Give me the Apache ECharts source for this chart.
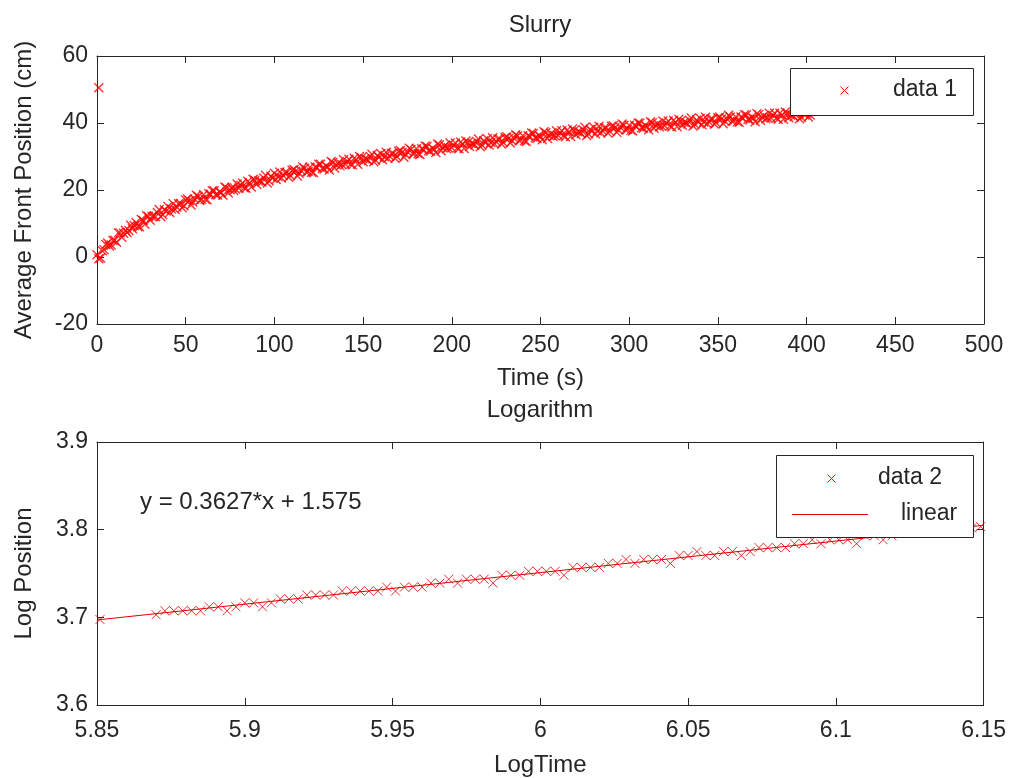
<!DOCTYPE html>
<html>
<head>
<meta charset="utf-8">
<title>Slurry</title>
<script src="https://cdn.jsdelivr.net/npm/echarts@6/dist/echarts.min.js"></script>
<style>
html, body { margin: 0; padding: 0; background: #fff; }
#chart { width: 1009px; height: 778px; }
</style>
</head>
<body>
<div id="chart"></div>
<script>
// top panel: average front position vs time (even seconds)
var timeEven = [
  0, 2, 4, 6, 8, 10, 12, 14, 16, 18,
  20, 22, 24, 26, 28, 30, 32, 34, 36, 38,
  40, 42, 44, 46, 48, 50, 52, 54, 56, 58,
  60, 62, 64, 66, 68, 70, 72, 74, 76, 78,
  80, 82, 84, 86, 88, 90, 92, 94, 96, 98,
  100, 102, 104, 106, 108, 110, 112, 114, 116, 118,
  120, 122, 124, 126, 128, 130, 132, 134, 136, 138,
  140, 142, 144, 146, 148, 150, 152, 154, 156, 158,
  160, 162, 164, 166, 168, 170, 172, 174, 176, 178,
  180, 182, 184, 186, 188, 190, 192, 194, 196, 198,
  200, 202, 204, 206, 208, 210, 212, 214, 216, 218,
  220, 222, 224, 226, 228, 230, 232, 234, 236, 238,
  240, 242, 244, 246, 248, 250, 252, 254, 256, 258,
  260, 262, 264, 266, 268, 270, 272, 274, 276, 278,
  280, 282, 284, 286, 288, 290, 292, 294, 296, 298,
  300, 302, 304, 306, 308, 310, 312, 314, 316, 318,
  320, 322, 324, 326, 328, 330, 332, 334, 336, 338,
  340, 342, 344, 346, 348, 350, 352, 354, 356, 358,
  360, 362, 364, 366, 368, 370, 372, 374, 376, 378,
  380, 382, 384, 386, 388, 390, 392, 394, 396, 398,
  400, 402
];
var posEven = [
  0.7, -0.3, 2.2, 4.2, 3.6, 5.0, 7.2, 5.9, 7.9, 7.9,
  8.4, 10.3, 9.0, 10.9, 12.3, 11.0, 12.2, 13.3, 12.0, 14.1,
  15.1, 14.3, 14.2, 15.9, 14.7, 17.0, 16.8, 16.4, 18.4, 16.9,
  18.6, 17.1, 18.7, 19.8, 18.5, 19.2, 20.9, 19.1, 20.7, 20.3,
  20.5, 22.1, 20.5, 22.1, 23.2, 21.7, 22.7, 23.6, 22.1, 24.1,
  25.0, 24.0, 23.6, 25.2, 23.8, 25.9, 25.6, 25.0, 26.9, 25.3,
  26.8, 25.2, 26.7, 27.7, 26.3, 26.9, 28.5, 26.6, 28.1, 27.6,
  27.7, 29.2, 27.5, 29.0, 30.0, 28.4, 29.2, 30.0, 28.4, 30.3,
  30.9, 29.9, 29.5, 30.9, 29.5, 31.6, 31.2, 30.6, 32.5, 30.8,
  32.3, 30.6, 32.1, 33.0, 31.6, 32.1, 33.7, 31.7, 33.2, 32.6,
  32.6, 34.0, 32.3, 33.7, 34.6, 33.0, 33.8, 34.5, 32.9, 34.7,
  35.3, 34.2, 33.8, 35.2, 33.7, 35.7, 35.4, 34.7, 36.5, 34.8,
  36.2, 34.5, 36.0, 36.9, 35.4, 35.9, 37.4, 35.4, 36.9, 36.3,
  36.3, 37.7, 35.9, 37.3, 38.2, 36.5, 37.3, 38.0, 36.3, 38.1,
  38.7, 37.6, 37.1, 38.5, 37.0, 39.0, 38.6, 37.9, 39.7, 38.0,
  39.3, 37.6, 39.0, 39.9, 38.4, 38.9, 40.4, 38.4, 39.8, 39.2,
  39.2, 40.6, 38.8, 40.2, 41.1, 39.3, 40.1, 40.8, 39.1, 40.9,
  41.4, 40.3, 39.8, 41.2, 39.7, 41.6, 41.2, 40.5, 42.3, 40.5,
  41.9, 40.2, 41.5, 42.4, 40.9, 41.4, 42.8, 40.8, 42.2, 41.6,
  41.5, 42.9, 41.1, 42.4, 43.3, 41.6, 42.3, 43.0, 41.3, 43.0,
  42.9, 42.4
];
// same series, odd seconds
var timeOdd = [
  1, 3, 5, 7, 9, 11, 13, 15, 17, 19,
  21, 23, 25, 27, 29, 31, 33, 35, 37, 39,
  41, 43, 45, 47, 49, 51, 53, 55, 57, 59,
  61, 63, 65, 67, 69, 71, 73, 75, 77, 79,
  81, 83, 85, 87, 89, 91, 93, 95, 97, 99,
  101, 103, 105, 107, 109, 111, 113, 115, 117, 119,
  121, 123, 125, 127, 129, 131, 133, 135, 137, 139,
  141, 143, 145, 147, 149, 151, 153, 155, 157, 159,
  161, 163, 165, 167, 169, 171, 173, 175, 177, 179,
  181, 183, 185, 187, 189, 191, 193, 195, 197, 199,
  201, 203, 205, 207, 209, 211, 213, 215, 217, 219,
  221, 223, 225, 227, 229, 231, 233, 235, 237, 239,
  241, 243, 245, 247, 249, 251, 253, 255, 257, 259,
  261, 263, 265, 267, 269, 271, 273, 275, 277, 279,
  281, 283, 285, 287, 289, 291, 293, 295, 297, 299,
  301, 303, 305, 307, 309, 311, 313, 315, 317, 319,
  321, 323, 325, 327, 329, 331, 333, 335, 337, 339,
  341, 343, 345, 347, 349, 351, 353, 355, 357, 359,
  361, 363, 365, 367, 369, 371, 373, 375, 377, 379,
  381, 383, 385, 387, 389, 391, 393, 395, 397, 399,
  401
];
var posOdd = [
  -0.5, 1.9, 3.7, 3.3, 4.9, 4.4, 7.2, 7.1, 7.3, 9.5,
  9.4, 9.0, 11.2, 9.8, 12.1, 12.1, 12.0, 14.2, 12.6, 13.7,
  13.3, 15.9, 14.9, 16.0, 15.3, 17.3, 15.5, 17.3, 18.1, 17.2,
  17.2, 18.9, 19.8, 18.6, 19.5, 18.4, 20.7, 20.1, 19.9, 21.8,
  21.4, 20.7, 22.6, 20.9, 22.9, 22.7, 22.4, 24.4, 22.7, 23.6,
  23.1, 25.4, 24.3, 25.2, 24.3, 26.1, 24.2, 25.8, 26.5, 25.5,
  25.3, 26.9, 27.7, 26.4, 27.2, 26.0, 28.2, 27.5, 27.2, 29.0,
  28.5, 27.7, 29.5, 27.7, 29.6, 29.3, 28.8, 30.7, 28.9, 29.7,
  29.0, 31.3, 30.1, 30.9, 30.0, 31.8, 29.8, 31.4, 32.1, 31.0,
  30.8, 32.3, 33.1, 31.7, 32.5, 31.2, 33.4, 32.6, 32.3, 34.0,
  33.4, 32.5, 34.3, 32.4, 34.2, 33.9, 33.4, 35.2, 33.4, 34.1,
  33.4, 35.6, 34.4, 35.2, 34.2, 35.9, 34.0, 35.5, 36.1, 35.0,
  34.7, 36.2, 37.0, 35.6, 36.3, 35.0, 37.1, 36.3, 36.0, 37.7,
  37.1, 36.2, 37.9, 36.0, 37.8, 37.4, 36.9, 38.7, 36.8, 37.5,
  36.8, 39.0, 37.7, 38.5, 37.5, 39.2, 37.2, 38.7, 39.3, 38.1,
  37.8, 39.3, 40.0, 38.6, 39.3, 38.0, 40.1, 39.3, 38.9, 40.6,
  40.0, 39.1, 40.8, 38.9, 40.6, 40.2, 39.7, 41.5, 39.6, 40.2,
  39.5, 41.7, 40.4, 41.2, 40.1, 41.8, 39.8, 41.3, 41.8, 40.7,
  40.4, 41.8, 42.5, 41.1, 41.8, 40.4, 42.5, 41.7, 41.3, 42.9,
  42.3, 41.4, 43.0, 41.1, 42.9, 42.4, 41.9, 43.7, 41.7, 42.4,
  41.8
];
// the lone point near the top left
var outlierTime = [1];
var outlierPos = [50.5];

// bottom panel: log position vs log time
var logTime = [
  5.851,
  5.870, 5.873, 5.876, 5.879, 5.882, 5.885, 5.888, 5.891, 5.894, 5.897,
  5.900, 5.903, 5.906, 5.909, 5.912, 5.915, 5.918, 5.921, 5.924, 5.927,
  5.930, 5.933, 5.936, 5.939, 5.942, 5.945, 5.948, 5.951, 5.954, 5.957,
  5.960, 5.963, 5.966, 5.969, 5.972, 5.975, 5.978, 5.981, 5.984, 5.987,
  5.990, 5.993, 5.996, 5.999, 6.002, 6.005, 6.008, 6.011, 6.014, 6.017,
  6.020, 6.023, 6.026, 6.029, 6.032, 6.035, 6.038, 6.041, 6.044, 6.047,
  6.050, 6.053, 6.056, 6.059, 6.062, 6.065, 6.068, 6.071, 6.074, 6.077,
  6.080, 6.083, 6.086, 6.089, 6.092, 6.095, 6.098, 6.101, 6.104, 6.107,
  6.110, 6.113, 6.116, 6.119, 6.122, 6.125, 6.128, 6.131, 6.134, 6.137,
  6.140, 6.143, 6.146,
  6.149
];
var logPos = [
  3.6975,
  3.7030, 3.7075, 3.7075, 3.7075, 3.7075, 3.7075, 3.7120, 3.7120, 3.7075, 3.7120,
  3.7165, 3.7165, 3.7120, 3.7165, 3.7210, 3.7210, 3.7210, 3.7255, 3.7255, 3.7255,
  3.7255, 3.7300, 3.7300, 3.7300, 3.7300, 3.7300, 3.7345, 3.7300, 3.7345, 3.7345,
  3.7345, 3.7390, 3.7390, 3.7435, 3.7390, 3.7435, 3.7435, 3.7435, 3.7390, 3.7480,
  3.7480, 3.7480, 3.7525, 3.7525, 3.7525, 3.7525, 3.7480, 3.7570, 3.7570, 3.7570,
  3.7570, 3.7615, 3.7615, 3.7660, 3.7615, 3.7660, 3.7660, 3.7660, 3.7615, 3.7705,
  3.7705, 3.7750, 3.7705, 3.7705, 3.7750, 3.7750, 3.7705, 3.7750, 3.7795, 3.7795,
  3.7795, 3.7795, 3.7840, 3.7840, 3.7885, 3.7840, 3.7885, 3.7885, 3.7885, 3.7840,
  3.7930, 3.7930, 3.7885, 3.7930, 3.7975, 3.7975, 3.7975, 3.8020, 3.8020, 3.8020,
  3.8020, 3.8020, 3.8020,
  3.8035
];
// linear fit y = 0.3627*x + 1.575, end points
var fitX = [5.85, 6.15];
var fitY = [3.697, 3.805];

var fitLabel = 'y = 0.3627*x + 1.575';

var FONT = '"Liberation Sans", Arial, Helvetica, sans-serif';
var INK = '#262626';
var RED = '#ff0000';
var RED2 = '#e00000';
var CROSS = 'path://M0,0L10,10M10,0L0,10';

function zip(xs, ys) {
  var out = [];
  for (var i = 0; i < xs.length; i++) out.push([xs[i], ys[i]]);
  return out;
}

function frameAxis(grid, pos, min, max, interval, showLabel, extra) {
  var ax = {
    gridIndex: grid,
    type: 'value',
    position: pos,
    min: min,
    max: max,
    interval: interval,
    axisLine: { show: true, onZero: false, lineStyle: { color: INK, width: 1 } },
    axisTick: { show: true, inside: true, length: 7, lineStyle: { color: INK } },
    axisLabel: { show: showLabel, color: INK, fontSize: 23, fontFamily: FONT, margin: 9 },
    splitLine: { show: false }
  };
  if (extra) for (var k in extra) ax[k] = extra[k];
  return ax;
}

var axisName = { color: INK, fontSize: 24, fontFamily: FONT };

function cross(cx, cy, color) {
  return [
    { type: 'line', z: 102, shape: { x1: cx - 4, y1: cy - 4, x2: cx + 4, y2: cy + 4 }, style: { stroke: color, lineWidth: 1 } },
    { type: 'line', z: 102, shape: { x1: cx + 4, y1: cy - 4, x2: cx - 4, y2: cy + 4 }, style: { stroke: color, lineWidth: 1 } }
  ];
}

var topX = frameAxis(0, 'bottom', 0, 500, 50, true, {
  name: 'Time (s)', nameLocation: 'middle', nameGap: 42, nameTextStyle: axisName
});
topX.axisLabel.margin = 10;
var bottomX = frameAxis(1, 'bottom', 5.85, 6.15, 0.05, true, {
  name: 'LogTime', nameLocation: 'middle', nameGap: 48, nameTextStyle: axisName
});
bottomX.axisLabel.margin = 14;

var chart = echarts.init(document.getElementById('chart'));
chart.setOption({
  animation: false,
  backgroundColor: '#fff',
  textStyle: { fontFamily: FONT },
  grid: [
    { left: 97, top: 56, width: 887, height: 268 },
    { left: 97, top: 442, width: 887, height: 268 }
  ],
  xAxis: [
    topX,
    frameAxis(0, 'top', 0, 500, 50, false),
    bottomX,
    frameAxis(1, 'top', 5.85, 6.15, 0.05, false)
  ],
  yAxis: [
    frameAxis(0, 'left', -20, 60, 20, true, {
      name: 'Average Front Position (cm)', nameLocation: 'middle', nameGap: 61, nameTextStyle: axisName
    }),
    frameAxis(0, 'right', -20, 60, 20, false),
    frameAxis(1, 'left', 3.6, 3.9, 0.1, true, {
      name: 'Log Position', nameLocation: 'middle', nameGap: 61, nameTextStyle: axisName
    }),
    frameAxis(1, 'right', 3.6, 3.9, 0.1, false)
  ],
  series: [
    {
      name: 'data 1',
      type: 'scatter',
      xAxisIndex: 0,
      yAxisIndex: 0,
      symbol: CROSS,
      symbolSize: 9,
      silent: true,
      itemStyle: { color: 'rgba(0,0,0,0)', borderColor: RED, borderWidth: 1.4 },
      data: zip(outlierTime, outlierPos).concat(zip(timeEven, posEven), zip(timeOdd, posOdd))
    },
    {
      name: 'data 2',
      type: 'scatter',
      xAxisIndex: 2,
      yAxisIndex: 2,
      symbol: CROSS,
      symbolSize: 9,
      silent: true,
      itemStyle: { color: 'rgba(0,0,0,0)', borderColor: RED2, borderWidth: 1 },
      data: zip(logTime, logPos)
    },
    {
      name: 'linear',
      type: 'line',
      xAxisIndex: 2,
      yAxisIndex: 2,
      symbol: 'none',
      silent: true,
      lineStyle: { color: RED2, width: 1 },
      data: zip(fitX, fitY)
    }
  ],
  graphic: [
    { type: 'text', x: 540, y: 25, z: 100, style: { text: 'Slurry', fill: INK, font: '24px ' + FONT, align: 'center', verticalAlign: 'middle' } },
    { type: 'text', x: 540, y: 410, z: 100, style: { text: 'Logarithm', fill: INK, font: '24px ' + FONT, align: 'center', verticalAlign: 'middle' } },
    { type: 'text', x: 140, y: 502, z: 100, style: { text: fitLabel, fill: INK, font: '24px ' + FONT, align: 'left', verticalAlign: 'middle' } },
    // legend, top panel
    { type: 'rect', z: 100, shape: { x: 790.5, y: 68.5, width: 183, height: 47 }, style: { fill: '#fff', stroke: INK, lineWidth: 1 } },
    { type: 'text', x: 893, y: 90, z: 101, style: { text: 'data 1', fill: INK, font: '23px ' + FONT, verticalAlign: 'middle' } },
    // legend, bottom panel
    { type: 'rect', z: 100, shape: { x: 776.5, y: 455.5, width: 197, height: 82 }, style: { fill: '#fff', stroke: INK, lineWidth: 1 } },
    { type: 'text', x: 878, y: 478, z: 101, style: { text: 'data 2', fill: INK, font: '23px ' + FONT, verticalAlign: 'middle' } },
    { type: 'line', z: 101, shape: { x1: 792, y1: 514.5, x2: 868, y2: 514.5 }, style: { stroke: RED2, lineWidth: 1 } },
    { type: 'text', x: 901, y: 514, z: 101, style: { text: 'linear', fill: INK, font: '23px ' + FONT, verticalAlign: 'middle' } }
  ].concat(cross(844.5, 90.5, RED), cross(831.5, 478.5, RED))
});
</script>
</body>
</html>
